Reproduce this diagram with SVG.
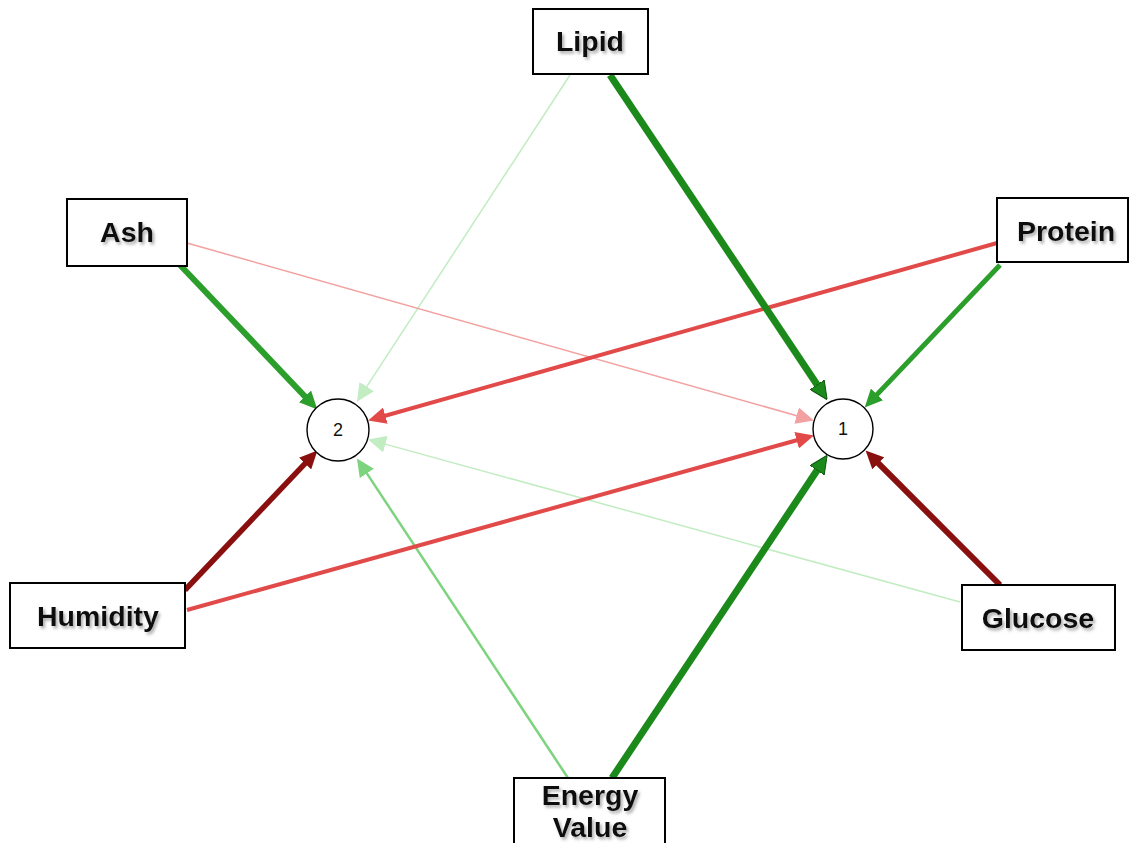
<svg xmlns="http://www.w3.org/2000/svg" width="1130" height="843" viewBox="0 0 1130 843">
<defs>
<style>
.box{fill:#fff;stroke:#000;stroke-width:2}
.lbl{font-family:"Liberation Sans",Arial,sans-serif;font-weight:bold;font-size:28.5px;fill:#0a0a0a;text-anchor:middle;filter:url(#sh)}
.circ{fill:#fff;stroke:#000;stroke-width:1.4}
.num{font-family:"Liberation Sans",Arial,sans-serif;font-size:18px;fill:#111;text-anchor:middle}
.e{fill:none;stroke-linecap:butt}
</style>
<filter id="sh" x="-20%" y="-30%" width="140%" height="160%">
<feDropShadow dx="2" dy="2.5" stdDeviation="1.5" flood-color="#777" flood-opacity="0.6"/>
</filter>
<marker id="mDG" markerUnits="userSpaceOnUse" markerWidth="18" markerHeight="17" refX="3" refY="8.5" orient="auto"><path d="M0,0 L18,8.5 L0,17 z" fill="#1b8a1b" stroke="#0d540d" stroke-width="1"/></marker>
<marker id="mG" markerUnits="userSpaceOnUse" markerWidth="18" markerHeight="17" refX="3" refY="8.5" orient="auto"><path d="M0,0 L18,8.5 L0,17 z" fill="#2c9e2c"/></marker>
<marker id="mLG" markerUnits="userSpaceOnUse" markerWidth="18" markerHeight="17" refX="3" refY="8.5" orient="auto"><path d="M0,0 L18,8.5 L0,17 z" fill="#7ed47e"/></marker>
<marker id="mPG" markerUnits="userSpaceOnUse" markerWidth="18" markerHeight="17" refX="3" refY="8.5" orient="auto"><path d="M0,0 L18,8.5 L0,17 z" fill="#c2ecc2"/></marker>
<marker id="mDR" markerUnits="userSpaceOnUse" markerWidth="18" markerHeight="17" refX="3" refY="8.5" orient="auto"><path d="M0,0 L18,8.5 L0,17 z" fill="#8a1010"/></marker>
<marker id="mR" markerUnits="userSpaceOnUse" markerWidth="18" markerHeight="17" refX="3" refY="8.5" orient="auto"><path d="M0,0 L18,8.5 L0,17 z" fill="#e24a4a"/></marker>
<marker id="mPR" markerUnits="userSpaceOnUse" markerWidth="18" markerHeight="17" refX="3" refY="8.5" orient="auto"><path d="M0,0 L18,8.5 L0,17 z" fill="#f3a0a0"/></marker>
</defs>
<rect width="1130" height="843" fill="#fff"/>
<g id="connectors">
<line class="e" x1="570" y1="75" x2="365.1" y2="389.1" stroke="#c2ecc2" stroke-width="1.5" marker-end="url(#mPG)"/>
<line class="e" x1="960" y1="602" x2="382.5" y2="443.4" stroke="#c2ecc2" stroke-width="1.5" marker-end="url(#mPG)"/>
<line class="e" x1="187" y1="243" x2="799.5" y2="416.5" stroke="#f3a0a0" stroke-width="1.5" marker-end="url(#mPR)"/>
<line class="e" x1="568" y1="778" x2="365.2" y2="470.9" stroke="#7ed47e" stroke-width="2.5" marker-end="url(#mLG)"/>
<line class="e" x1="997" y1="243" x2="382.5" y2="416.5" stroke="#e24a4a" stroke-width="4" marker-end="url(#mR)"/>
<line class="e" x1="187" y1="610" x2="799.5" y2="439.5" stroke="#e24a4a" stroke-width="4" marker-end="url(#mR)"/>
<line class="e" x1="180" y1="265" x2="307" y2="398.6" stroke="#2c9e2c" stroke-width="6" marker-end="url(#mG)"/>
<line class="e" x1="1000" y1="265" x2="875" y2="396.6" stroke="#2c9e2c" stroke-width="5" marker-end="url(#mG)"/>
<line class="e" x1="185" y1="590" x2="307.1" y2="461.4" stroke="#8a1010" stroke-width="5.5" marker-end="url(#mDR)"/>
<line class="e" x1="1000" y1="585" x2="876.2" y2="461.2" stroke="#8a1010" stroke-width="6" marker-end="url(#mDR)"/>
<line class="e" x1="610" y1="75" x2="818.8" y2="387.2" stroke="#1b8a1b" stroke-width="7" marker-end="url(#mDG)"/>
<line class="e" x1="612" y1="778" x2="818.8" y2="467.8" stroke="#1b8a1b" stroke-width="7" marker-end="url(#mDG)"/>
</g>
<g id="node-2"><circle class="circ" cx="338" cy="430" r="31"/><text class="num" x="338" y="436">2</text></g>
<g id="node-1"><circle class="circ" cx="843" cy="429" r="30"/><text class="num" x="843" y="435">1</text></g>
<g id="node-lipid"><rect class="box" x="533" y="9" width="115" height="65"/><text class="lbl" x="590" y="51">Lipid</text></g>
<g id="node-ash"><rect class="box" x="67" y="199" width="120" height="67"/><text class="lbl" x="127" y="242">Ash</text></g>
<g id="node-protein"><rect class="box" x="997" y="198" width="131" height="64"/><text class="lbl" x="1066" y="241">Protein</text></g>
<g id="node-humidity"><rect class="box" x="10" y="583" width="175" height="65"/><text class="lbl" x="98" y="626">Humidity</text></g>
<g id="node-glucose"><rect class="box" x="962" y="585" width="153" height="65"/><text class="lbl" x="1038" y="628">Glucose</text></g>
<g id="node-energy"><rect class="box" x="514" y="778" width="151" height="70"/><text class="lbl" x="590" y="805">Energy</text><text class="lbl" x="590" y="837">Value</text></g>
</svg>
